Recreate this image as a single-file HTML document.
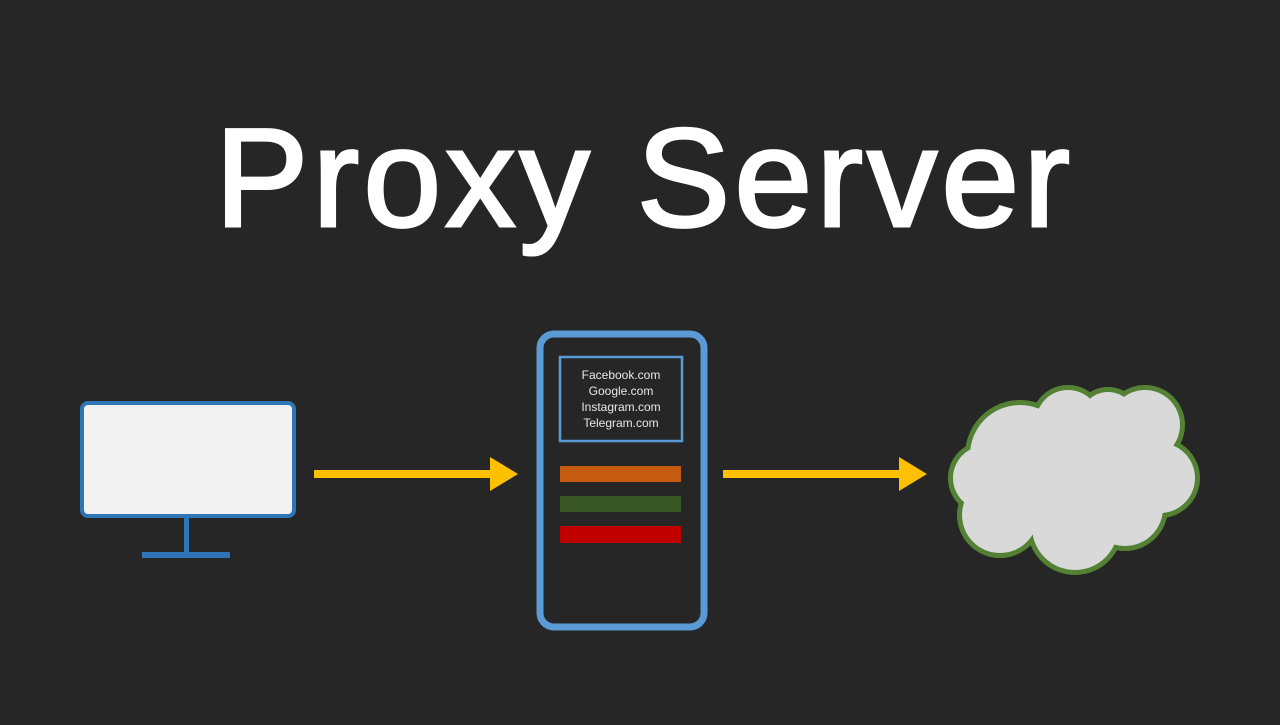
<!DOCTYPE html>
<html><head><style>html,body{margin:0;padding:0;background:#262626;}</style></head>
<body>
<svg width="1280" height="720" xmlns="http://www.w3.org/2000/svg">
<rect width="1280" height="720" fill="#262626"/>
<text x="215" y="226" font-family="Liberation Sans, sans-serif" font-size="140" fill="#fff" stroke="#fff" stroke-width="3" textLength="855" lengthAdjust="spacing">Proxy Server</text>
<!-- monitor -->
<rect x="82" y="403" width="212" height="113" rx="6" fill="#f2f2f2" stroke="#2e75b6" stroke-width="4"/>
<rect x="184" y="517" width="5" height="36" fill="#2e75b6"/>
<rect x="142" y="552" width="88" height="6" fill="#2e75b6"/>
<!-- arrows -->
<rect x="314" y="470" width="178" height="8" fill="#ffc000"/>
<polygon points="490,457 518,474 490,491" fill="#ffc000"/>
<rect x="723" y="470" width="179" height="8" fill="#ffc000"/>
<polygon points="899,457 927,474 899,491" fill="#ffc000"/>
<!-- server -->
<rect x="540" y="334" width="164" height="293" rx="14" fill="#262626" stroke="#5b9bd5" stroke-width="7"/>
<rect x="560" y="357" width="122" height="84" fill="none" stroke="#5b9bd5" stroke-width="2.5"/>
<g font-family="Liberation Sans, sans-serif" font-size="12" fill="#e8e8e8" text-anchor="middle">
<text x="621" y="379">Facebook.com</text>
<text x="621" y="395">Google.com</text>
<text x="621" y="411">Instagram.com</text>
<text x="621" y="427">Telegram.com</text>
</g>
<rect x="560" y="466" width="121" height="16" fill="#c55a11"/>
<rect x="560" y="496" width="121" height="16" fill="#375623"/>
<rect x="560" y="526" width="121" height="17" fill="#c00000"/>
<!-- cloud -->
<g stroke="#548235" stroke-width="10" fill="#548235">
<circle cx="1020" cy="455" r="50"/>
<circle cx="1068" cy="422" r="32"/>
<circle cx="1108" cy="420" r="28"/>
<circle cx="1145" cy="425" r="35"/>
<circle cx="1160" cy="478" r="35"/>
<circle cx="985" cy="478" r="32"/>
<circle cx="1000" cy="515" r="38"/>
<circle cx="1075" cy="527" r="43"/>
<circle cx="1125" cy="508" r="38"/>
<circle cx="1070" cy="480" r="55"/>
</g>
<g fill="#d9d9d9">
<circle cx="1020" cy="455" r="50"/>
<circle cx="1068" cy="422" r="32"/>
<circle cx="1108" cy="420" r="28"/>
<circle cx="1145" cy="425" r="35"/>
<circle cx="1160" cy="478" r="35"/>
<circle cx="985" cy="478" r="32"/>
<circle cx="1000" cy="515" r="38"/>
<circle cx="1075" cy="527" r="43"/>
<circle cx="1125" cy="508" r="38"/>
<circle cx="1070" cy="480" r="55"/>
<circle cx="1115" cy="465" r="45"/>
</g>
</svg>
</body></html>
